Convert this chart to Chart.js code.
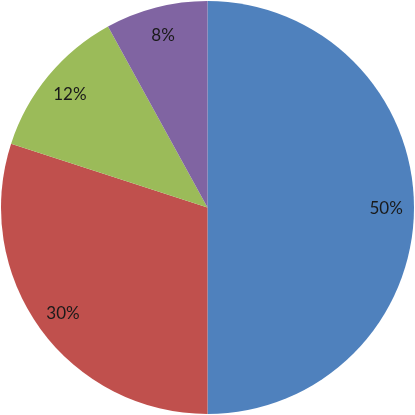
<!DOCTYPE html>
<html>
<head>
<meta charset="utf-8">
<script src="https://cdn.jsdelivr.net/npm/chart.js@4/dist/chart.umd.min.js"></script>
<style>
    html, body { margin: 0; padding: 0; background: #fff; }
    #wrap { width: 415px; height: 415px; }
</style>
</head>
<body>
<div id="wrap"><canvas id="pieChart" width="415" height="415"></canvas></div>
<script>
// Slice data, clockwise from 12 o'clock
const categories = ["A", "B", "C", "D"];
const values = [50, 30, 12, 8];
const sliceColors = ["#4F81BD", "#C0504D", "#9BBB59", "#8064A2"];

// Percent labels placed inside each slice
const pctLabels = {
    id: "pctLabels",
    afterDatasetsDraw(chart) {
        const ctx = chart.ctx;
        const meta = chart.getDatasetMeta(0);
        const total = values.reduce((a, b) => a + b, 0);
        ctx.save();
        ctx.font = "17px Lato, 'Open Sans', sans-serif";
        ctx.fillStyle = "#1a1a1a";
        ctx.textAlign = "center";
        ctx.textBaseline = "middle";
        meta.data.forEach((arc, i) => {
            const p = arc.getProps(["x", "y", "startAngle", "endAngle", "outerRadius"], true);
            const mid = (p.startAngle + p.endAngle) / 2;
            const r = p.outerRadius * 0.865;
            const pct = Math.round(values[i] / total * 100) + "%";
            ctx.fillText(pct, p.x + Math.cos(mid) * r, p.y + Math.sin(mid) * r + 1);
        });
        ctx.restore();
    }
};

document.addEventListener("DOMContentLoaded", () => {
    const pieCtx = document.getElementById("pieChart").getContext("2d");
    new Chart(pieCtx, {
        type: "pie",
        data: {
            labels: categories,
            datasets: [{
                data: values,
                backgroundColor: sliceColors,
                borderWidth: 0
            }]
        },
        options: {
            responsive: false,
            animation: false,
            layout: { padding: 1 },
            plugins: {
                legend: { display: false },
                tooltip: { enabled: false }
            }
        },
        plugins: [pctLabels]
    });
});
</script>
</body>
</html>
